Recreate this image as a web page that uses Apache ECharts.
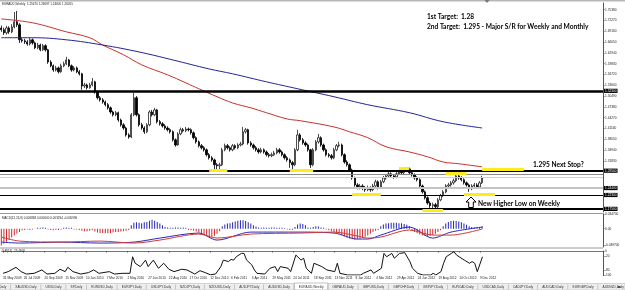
<!DOCTYPE html>
<html><head><meta charset="utf-8">
<script src="https://cdn.jsdelivr.net/npm/echarts/dist/echarts.min.js"></script>
<style>html,body{margin:0;padding:0;background:#fff;overflow:hidden}#c{width:625px;height:290px}</style>
</head><body><div id="c"></div>
<script>
// ---------- data ----------
const dateLabels = ["31 May 2009","26 Jul 2009","20 Sep 2009","15 Nov 2009","10 Jan 2010","7 Mar 2010","2 May 2010","27 Jun 2010","22 Aug 2010","17 Oct 2010","12 Dec 2010","6 Feb 2011","3 Apr 2011","29 May 2011","24 Jul 2011","18 Sep 2011","13 Nov 2011","8 Jan 2012","4 Mar 2012","29 Apr 2012","24 Jun 2012","19 Aug 2012","14 Oct 2012","9 Dec 2012"];
const priceTicks = [1.3183,1.3494,1.3805,1.4116,1.4427,1.4738,1.5049,1.5360,1.5672,1.5983,1.6294,1.6605,1.6916,1.7227,1.7538];
const open = [1.701,1.696,1.687,1.701,1.690,1.704,1.719,1.710,1.667,1.664,
1.661,1.655,1.667,1.658,1.644,1.652,1.638,1.650,1.638,1.603,
1.592,1.580,1.586,1.575,1.592,1.598,1.609,1.592,1.580,1.586,
1.575,1.569,1.534,1.537,1.529,1.537,1.546,1.517,1.500,1.494,
1.488,1.480,1.471,1.459,1.451,1.457,1.436,1.422,1.413,1.393,
1.387,1.451,1.500,1.451,1.422,1.413,1.402,1.422,1.459,1.451,
1.465,1.431,1.425,1.419,1.413,1.408,1.402,1.379,1.364,1.396,
1.408,1.405,1.410,1.408,1.399,1.385,1.373,1.362,1.356,1.350,
1.336,1.327,1.321,1.307,1.304,1.307,1.350,1.362,1.356,1.350,
1.362,1.356,1.364,1.367,1.402,1.408,1.370,1.364,1.356,1.350,
1.344,1.350,1.344,1.336,1.333,1.336,1.341,1.350,1.344,1.336,
1.327,1.321,1.313,1.307,1.350,1.393,1.379,1.370,1.364,1.350,
1.307,1.350,1.373,1.385,1.364,1.350,1.336,1.333,1.327,1.350,
1.362,1.364,1.336,1.315,1.307,1.292,1.269,1.249,1.241,1.246,
1.241,1.235,1.241,1.235,1.246,1.258,1.241,1.258,1.269,1.275,
1.281,1.275,1.272,1.281,1.287,1.284,1.292,1.295,1.284,1.278,
1.269,1.264,1.246,1.229,1.212,1.197,1.189,1.192,1.186,1.206,
1.218,1.229,1.246,1.249,1.255,1.261,1.275,1.269,1.264,1.255,
1.249,1.238,1.246,1.249,1.243,1.255];
const close = [1.696,1.687,1.701,1.690,1.704,1.719,1.710,1.667,1.664,1.661,
1.655,1.667,1.658,1.644,1.652,1.638,1.650,1.638,1.603,1.592,
1.580,1.586,1.575,1.592,1.598,1.609,1.592,1.580,1.586,1.575,
1.569,1.534,1.537,1.529,1.537,1.546,1.517,1.500,1.494,1.488,
1.480,1.471,1.459,1.451,1.457,1.436,1.422,1.413,1.393,1.387,
1.451,1.500,1.451,1.422,1.413,1.402,1.422,1.459,1.451,1.465,
1.431,1.425,1.419,1.413,1.408,1.402,1.379,1.364,1.396,1.408,
1.405,1.410,1.408,1.399,1.385,1.373,1.362,1.356,1.350,1.336,
1.327,1.321,1.307,1.304,1.307,1.350,1.362,1.356,1.350,1.362,
1.356,1.364,1.367,1.402,1.408,1.370,1.364,1.356,1.350,1.344,
1.350,1.344,1.336,1.333,1.336,1.341,1.350,1.344,1.336,1.327,
1.321,1.313,1.307,1.350,1.393,1.379,1.370,1.364,1.350,1.307,
1.350,1.373,1.385,1.364,1.350,1.336,1.333,1.327,1.350,1.362,
1.364,1.336,1.315,1.307,1.292,1.269,1.249,1.241,1.246,1.241,
1.235,1.241,1.235,1.246,1.258,1.241,1.258,1.269,1.275,1.281,
1.275,1.272,1.281,1.287,1.284,1.292,1.295,1.284,1.278,1.269,
1.264,1.246,1.229,1.212,1.197,1.189,1.192,1.186,1.206,1.218,
1.229,1.246,1.249,1.255,1.261,1.275,1.269,1.264,1.255,1.249,
1.238,1.246,1.249,1.243,1.255,1.269];
const high = [1.708,1.702,1.707,1.706,1.712,1.747,1.750,1.715,1.673,1.670,
1.666,1.672,1.671,1.662,1.658,1.656,1.655,1.654,1.641,1.608,
1.596,1.592,1.590,1.598,1.604,1.618,1.612,1.596,1.591,1.590,
1.580,1.572,1.543,1.541,1.543,1.557,1.549,1.521,1.505,1.499,
1.492,1.485,1.475,1.463,1.462,1.460,1.440,1.427,1.417,1.398,
1.456,1.514,1.505,1.455,1.428,1.418,1.427,1.464,1.465,1.471,
1.468,1.436,1.430,1.424,1.418,1.412,1.406,1.383,1.401,1.414,
1.413,1.416,1.414,1.412,1.403,1.389,1.377,1.367,1.361,1.354,
1.341,1.332,1.325,1.312,1.313,1.356,1.368,1.367,1.360,1.367,
1.366,1.369,1.373,1.416,1.413,1.411,1.375,1.368,1.361,1.355,
1.356,1.354,1.348,1.341,1.342,1.347,1.356,1.355,1.348,1.340,
1.332,1.325,1.318,1.355,1.408,1.398,1.384,1.375,1.368,1.353,
1.355,1.378,1.396,1.389,1.368,1.354,1.341,1.338,1.356,1.367,
1.373,1.368,1.340,1.320,1.311,1.296,1.273,1.254,1.252,1.251,
1.246,1.247,1.245,1.252,1.264,1.262,1.263,1.275,1.280,1.286,
1.285,1.280,1.286,1.292,1.293,1.297,1.301,1.299,1.288,1.282,
1.274,1.268,1.250,1.233,1.216,1.202,1.198,1.197,1.211,1.223,
1.234,1.251,1.255,1.260,1.267,1.284,1.280,1.274,1.268,1.259,
1.253,1.251,1.255,1.254,1.260,1.275];
const low = [1.690,1.681,1.682,1.684,1.686,1.700,1.704,1.658,1.659,1.655,
1.650,1.651,1.653,1.640,1.640,1.634,1.635,1.633,1.598,1.588,
1.575,1.576,1.570,1.572,1.588,1.594,1.588,1.575,1.576,1.571,
1.564,1.523,1.528,1.524,1.526,1.533,1.512,1.495,1.489,1.483,
1.475,1.466,1.454,1.446,1.447,1.431,1.417,1.408,1.388,1.382,
1.384,1.447,1.446,1.417,1.408,1.396,1.398,1.418,1.446,1.447,
1.426,1.420,1.414,1.408,1.403,1.397,1.374,1.359,1.362,1.392,
1.400,1.401,1.403,1.394,1.380,1.368,1.357,1.351,1.345,1.331,
1.322,1.316,1.293,1.292,1.294,1.303,1.346,1.351,1.345,1.346,
1.351,1.352,1.360,1.363,1.397,1.365,1.359,1.351,1.345,1.339,
1.340,1.339,1.331,1.328,1.329,1.332,1.337,1.339,1.331,1.322,
1.316,1.298,1.292,1.303,1.346,1.374,1.365,1.359,1.345,1.298,
1.303,1.346,1.368,1.359,1.345,1.331,1.328,1.322,1.323,1.346,
1.357,1.331,1.310,1.302,1.287,1.264,1.244,1.236,1.236,1.234,
1.229,1.231,1.229,1.231,1.242,1.236,1.237,1.254,1.264,1.271,
1.270,1.267,1.268,1.277,1.279,1.280,1.287,1.279,1.273,1.264,
1.259,1.241,1.224,1.207,1.192,1.177,1.174,1.180,1.182,1.202,
1.214,1.225,1.241,1.244,1.250,1.257,1.264,1.259,1.250,1.244,
1.229,1.234,1.241,1.238,1.239,1.252];
// moving averages: [week index, price]
const maRed = [[0,1.727],[12,1.716],[25,1.690],[34,1.673],[39,1.652],[47,1.624],[54,1.595],[64,1.566],[71,1.543],[76,1.526],[83,1.503],[89,1.485],[96,1.471],[102,1.457],[110,1.439],[115,1.434],[128,1.416],[134,1.402],[141,1.385],[148,1.359],[157,1.344],[164,1.330],[170,1.315],[176,1.310],[185,1.301]];
const maBlue = [[0,1.673],[12,1.673],[25,1.667],[39,1.652],[53,1.632],[66,1.609],[80,1.583],[89,1.569],[102,1.546],[114,1.526],[128,1.503],[141,1.480],[157,1.457],[170,1.431],[185,1.413]];
const macdHist = [-0.040,-0.036,-0.031,-0.026,-0.021,-0.016,-0.012,-0.008,
-0.004,-0.003,-0.002,-0.003,-0.002,-0.001,0.002,0.002,
0.003,0.002,-0.002,-0.003,-0.004,-0.003,-0.003,-0.002,
0.002,0.003,0.002,0.002,-0.002,-0.002,-0.003,-0.005,
-0.006,-0.006,-0.005,-0.004,-0.007,-0.009,-0.010,-0.010,
-0.011,-0.011,-0.010,-0.009,-0.008,-0.008,-0.007,-0.006,
-0.005,-0.003,0.008,0.014,0.015,0.014,0.013,0.015,
0.016,0.019,0.021,0.019,0.016,0.012,0.008,0.004,
0.003,0.002,0.002,0.003,0.003,0.002,0.003,0.002,
-0.003,-0.004,-0.005,-0.007,-0.009,-0.012,-0.015,-0.018,
-0.021,-0.020,-0.017,-0.012,-0.006,0.006,0.010,0.012,
0.013,0.015,0.017,0.019,0.020,0.020,0.018,0.015,
0.012,0.008,0.005,0.003,0.002,0.003,0.002,0.002,
0.003,0.003,0.002,0.002,0.002,0.001,-0.002,-0.003,
-0.003,0.004,0.010,0.012,0.011,0.008,0.003,0.002,
0.004,0.006,0.005,0.003,0.002,-0.002,-0.004,-0.006,
-0.008,-0.010,-0.012,-0.015,-0.018,-0.021,-0.023,-0.025,
-0.026,-0.025,-0.024,-0.022,-0.019,-0.016,-0.012,-0.008,
-0.005,-0.003,0.006,0.010,0.012,0.013,0.014,0.014,
0.014,0.013,0.013,0.011,0.009,0.006,-0.004,-0.008,
-0.011,-0.014,-0.016,-0.017,-0.018,-0.017,-0.015,-0.012,
-0.008,-0.004,0.006,0.012,0.016,0.018,0.019,0.018,
0.017,0.015,0.012,0.009,0.006,0.004,0.003,0.003,
0.004,0.006];
const macdMain = [[0,-0.0318],[7,-0.0341],[23,-0.0318],[38,-0.0341],[51,-0.0318],[61,-0.0223],[76,-0.0104],[83,-0.0270],[96,-0.0081],[115,-0.0081],[128,-0.0104],[137,-0.0246],[141,-0.0246],[146,-0.0152],[157,0.0038],[166,-0.0223],[173,-0.0081],[185,0.0038]];
const macdSignal = [[0,-0.0199],[7,-0.0294],[23,-0.0318],[38,-0.0294],[51,-0.0341],[61,-0.0270],[76,-0.0128],[83,-0.0223],[96,-0.0128],[115,-0.0104],[128,-0.0081],[137,-0.0175],[141,-0.0223],[146,-0.0199],[157,-0.0033],[166,-0.0152],[173,-0.0152],[185,-0.0009]];
const wpr = [[0,-93],[2,-86],[5,-68],[7,-86],[9,-96],[12,-93],[15,-79],[17,-96],[20,-93],[22,-76],[24,-86],[25,-68],[27,-86],[30,-96],[33,-90],[35,-79],[37,-93],[41,-86],[43,-96],[46,-93],[49,-93],[50,-24],[51,-51],[53,-65],[55,-38],[56,-65],[58,-38],[60,-72],[62,-51],[64,-76],[66,-86],[69,-76],[71,-79],[74,-96],[76,-82],[78,-90],[80,-99],[82,-96],[84,-66],[85,-38],[87,-44],[88,-35],[89,-38],[90,-24],[92,-10],[93,-10],[94,-38],[96,-58],[97,-79],[98,-93],[101,-96],[103,-72],[105,-65],[106,-86],[107,-65],[110,-72],[111,-86],[113,-17],[115,-38],[116,-30],[117,-72],[119,-93],[120,-51],[123,-65],[125,-79],[128,-86],[129,-51],[130,-93],[133,-100],[135,-100],[138,-100],[139,-93],[142,-79],[143,-93],[146,-72],[147,-10],[148,-24],[150,-10],[151,-30],[153,-10],[155,-7],[157,-44],[158,-72],[160,-93],[162,-100],[165,-100],[166,-93],[167,-100],[169,-86],[170,-51],[171,-24],[173,-10],[174,-3],[175,-17],[176,-24],[178,-38],[180,-51],[181,-44],[182,-51],[183,-86],[185,-24]];
const levelPrices = [1.523, 1.295, 1.285, 1.269, 1.244, 1.238, 1.223, 1.175];
const highlightSegs = [[80,87,1.292],[111,120,1.292],[135,146,1.223],[153,157,1.298],[162,170,1.175],[171,179,1.284],[178,190,1.223],[185,201,1.294]];
const tabs = ["WTI,Daily","XAUUSD,Daily","US30,Daily","SP,Daily","EURUSD,Daily","EURJPY,Daily","USDJPY,Daily","NZDJPY,Daily","NZDUSD,Daily","AUDJPY,Daily","AUDUSD,Daily","EURAUD,Weekly","GBPAUD,Daily","GBPUSD,Daily","GBPCHF,Daily","GBPJPY,Daily","EURCAD,Daily","USDCAD,Daily","CADJPY,Daily","AUDCAD,Daily","EURGBP,Daily","AUDNZD,Daily"];
const activeTab = "EURAUD,Weekly";

// ---------- styles / layout ----------
const N_CAT = 232;
const cats = Array.from({length: N_CAT}, (_, i) => String(i));
const levelStyles = [
  {color:'#000', width:2.5}, {color:'#000', width:2}, {color:'#8a8a8a', width:1},
  {color:'#d0d0d0', width:1}, {color:'#555', width:1}, {color:'#c4c4c4', width:2},
  {color:'#000', width:1.2}, {color:'#000', width:2}
];
const YEL = '#fcec1c';
const FONT = '"Liberation Sans", Arial, sans-serif';
const tickIdx = (i) => i % 8 === 0 && i <= 184;

const candleData = open.map((o, i) => [o, close[i], low[i], high[i]]);

const chart = echarts.init(document.getElementById('c'), null, {renderer: 'canvas'});

const axisLblStyle = {fontSize: 3.2, color: '#222', fontFamily: FONT};
function xAx(g, showLabels) {
  return {
    type: 'category', gridIndex: g, data: cats, boundaryGap: true,
    axisLine: {show: showLabels, lineStyle: {color: '#777', width: 1}},
    axisTick: {show: showLabels, interval: (i) => tickIdx(i), alignWithLabel: true, length: 1.5, lineStyle: {color: '#555'}},
    axisLabel: showLabels ? {show: true, interval: (i) => tickIdx(i), formatter: (v, i) => dateLabels[Math.round(i / 8)] || '', align: 'left', margin: 2, fontSize: 3.2, color: '#222', fontFamily: FONT} : {show: false},
    splitLine: {show: false}
  };
}

const levelMark = {
  silent: true, symbol: 'none', animation: false,
  data: levelPrices.map((p, k) => ({
    yAxis: p,
    lineStyle: {type: 'solid', color: levelStyles[k].color, width: levelStyles[k].width},
    label: {show: k !== 2 && k !== 3 && k !== 5, position: 'end', distance: 1, formatter: p.toFixed(5), backgroundColor: '#000', color: '#fff', fontSize: 3.2, padding: [0.6, 1], fontFamily: FONT}
  }))
};
const yellowMark = {
  silent: true, symbol: 'none', animation: false,
  lineStyle: {type: 'solid', color: YEL, width: 3},
  label: {show: false},
  data: highlightSegs.map(s => [{coord: [s[0], s[2]]}, {coord: [s[1], s[2]]}])
};

const option = {
  animation: false,
  backgroundColor: '#fff',
  grid: [
    {left: 0, right: 22, top: 3, height: 209},
    {left: 0, right: 22, top: 214, height: 33},
    {left: 0, right: 22, top: 251, height: 24}
  ],
  xAxis: [xAx(0, false), xAx(1, false), xAx(2, true)],
  yAxis: [
    {type: 'value', gridIndex: 0, position: 'right', min: 1.171, max: 1.773, scale: true,
     axisLine: {show: true, lineStyle: {color: '#555', width: 1}},
     axisTick: {show: true, length: 1.5, customValues: priceTicks, lineStyle: {color: '#555'}},
     axisLabel: {show: true, customValues: priceTicks, formatter: v => v.toFixed(5), margin: 2, ...axisLblStyle},
     splitLine: {show: false}},
    {type: 'value', gridIndex: 1, position: 'right', min: -0.0434, max: 0.0347,
     axisLine: {show: true, lineStyle: {color: '#555', width: 1}},
     axisTick: {show: true, length: 1.5, customValues: [0.0347, 0, -0.0397], lineStyle: {color: '#555'}},
     axisLabel: {show: true, customValues: [0.0347, 0, -0.0397], formatter: v => v === 0 ? '0.00' : v.toFixed(6), margin: 2, ...axisLblStyle},
     splitLine: {show: false}},
    {type: 'value', gridIndex: 2, position: 'right', min: -100, max: 0,
     axisLine: {show: true, lineStyle: {color: '#555', width: 1}},
     axisTick: {show: true, length: 1.5, customValues: [0, -20, -80, -100], lineStyle: {color: '#555'}},
     axisLabel: {show: true, customValues: [0, -20, -80, -100], formatter: v => String(v), margin: 2, ...axisLblStyle},
     splitLine: {show: false}}
  ],
  series: [
    {type: 'line', xAxisIndex: 0, yAxisIndex: 0, data: [], markLine: levelMark, z: 1},
    {type: 'candlestick', xAxisIndex: 0, yAxisIndex: 0, data: candleData, barWidth: 1.8,
     itemStyle: {color: '#ffffff', color0: '#000000', borderColor: '#222', borderColor0: '#000', borderWidth: 0.8}, z: 3},
    {type: 'line', xAxisIndex: 0, yAxisIndex: 0, data: maRed, smooth: 0.4, symbol: 'none', lineStyle: {color: '#c8302c', width: 1}, z: 4},
    {type: 'line', xAxisIndex: 0, yAxisIndex: 0, data: maBlue, smooth: 0.4, symbol: 'none', lineStyle: {color: '#23239a', width: 1}, z: 4},
    {type: 'line', xAxisIndex: 0, yAxisIndex: 0, data: [], markLine: yellowMark, z: 6},
    {type: 'bar', xAxisIndex: 1, yAxisIndex: 1, data: macdHist.map(v => ({value: v, itemStyle: {color: v >= 0 ? '#2424b4' : '#d0262c'}})), barWidth: 1, z: 2},
    {type: 'line', xAxisIndex: 1, yAxisIndex: 1, data: macdMain, smooth: 0.3, symbol: 'none', lineStyle: {color: '#2a2ab8', width: 1}, z: 3},
    {type: 'line', xAxisIndex: 1, yAxisIndex: 1, data: macdSignal, smooth: 0.3, symbol: 'none', lineStyle: {color: '#d03a3a', width: 1}, z: 3},
    {type: 'line', xAxisIndex: 2, yAxisIndex: 2, data: wpr, symbol: 'none', lineStyle: {color: '#111', width: 1}, z: 3}
  ],
  graphic: []
};

// ---------- decorations ----------
const g = [];
g.push({type: 'rect', shape: {x: 0, y: 0, width: 625, height: 1.5}, style: {fill: '#b8b8b8'}, silent: true, z: 100});
g.push({type: 'polygon', shape: {points: [[484.5, 0], [489.5, 0], [487, 3]]}, style: {fill: '#777'}, z: 101});
g.push({type: 'text', x: 2, y: 3, style: {text: 'EURAUD,Weekly  1.25670 1.26697 1.24600 1.26055', fontSize: 3, fill: '#222', fontFamily: FONT}, z: 100});
g.push({type: 'text', x: 427, y: 13.5, style: {text: '1st Target:  1.28', fontSize: 6.6, fontWeight: 'bold', fill: '#000', fontFamily: 'Lato, "Open Sans", sans-serif'}, z: 100});
g.push({type: 'text', x: 427, y: 23.5, style: {text: '2nd Target:  1.295 - Major S/R for Weekly and Monthly', fontSize: 6.6, fontWeight: 'bold', fill: '#000', fontFamily: 'Lato, "Open Sans", sans-serif'}, z: 100});
g.push({type: 'text', x: 533, y: 161.5, style: {text: '1.295 Next Stop?', fontSize: 6.6, fontWeight: 'bold', fill: '#000', fontFamily: 'Lato, "Open Sans", sans-serif'}, z: 100});
g.push({type: 'text', x: 478, y: 200.5, style: {text: 'New Higher Low on Weekly', fontSize: 6.6, fontWeight: 'bold', fill: '#000', fontFamily: 'Lato, "Open Sans", sans-serif'}, z: 100});
g.push({type: 'polygon', shape: {points: [[471, 197], [466, 202], [468.7, 202], [468.7, 207.5], [473.3, 207.5], [473.3, 202], [476, 202]]}, style: {fill: '#fff', stroke: '#000', lineWidth: 1}, z: 100});
// panel separators
g.push({type: 'rect', shape: {x: 0, y: 213, width: 603, height: 1}, style: {fill: '#9a9a9a'}, z: 90});
g.push({type: 'rect', shape: {x: 0, y: 247.5, width: 603, height: 1}, style: {fill: '#9a9a9a'}, z: 90});
g.push({type: 'text', x: 2, y: 216.5, style: {text: 'MACD(12,26,9) 0.006868 0.000000 0.003294 -0.005996', fontSize: 3, fill: '#222', fontFamily: FONT}, z: 100});
g.push({type: 'text', x: 2, y: 250, style: {text: '%R(14) -23.4468', fontSize: 3, fill: '#222', fontFamily: FONT}, z: 100});
// tab bar
g.push({type: 'rect', shape: {x: 0, y: 283.5, width: 625, height: 6.5}, style: {fill: '#eeeeee', stroke: '#b0b0b0', lineWidth: 0.5}, z: 95});
const mctx = document.createElement('canvas').getContext('2d');
mctx.font = '3.2px "Liberation Sans"';
let tx = -12;
tabs.forEach(t => {
  const w = mctx.measureText(t).width + 9;
  if (t === activeTab) {
    g.push({type: 'rect', shape: {x: tx, y: 283, width: w, height: 7}, style: {fill: '#fff', stroke: '#999', lineWidth: 0.6}, z: 96});
  }
  g.push({type: 'rect', shape: {x: tx + w - 0.5, y: 284.5, width: 0.6, height: 5}, style: {fill: '#aaa'}, z: 97});
  g.push({type: 'text', x: tx + w / 2, y: 287, style: {text: t, fontSize: 3.2, fill: '#333', align: 'center', verticalAlign: 'middle', fontFamily: FONT}, z: 98});
  tx += w;
});
g.push({type: 'text', x: 619, y: 287, style: {text: '◂ ▸', fontSize: 3.5, fill: '#333', align: 'center', verticalAlign: 'middle'}, z: 99});
option.graphic = g;

chart.setOption(option);
</script>
</body></html>
